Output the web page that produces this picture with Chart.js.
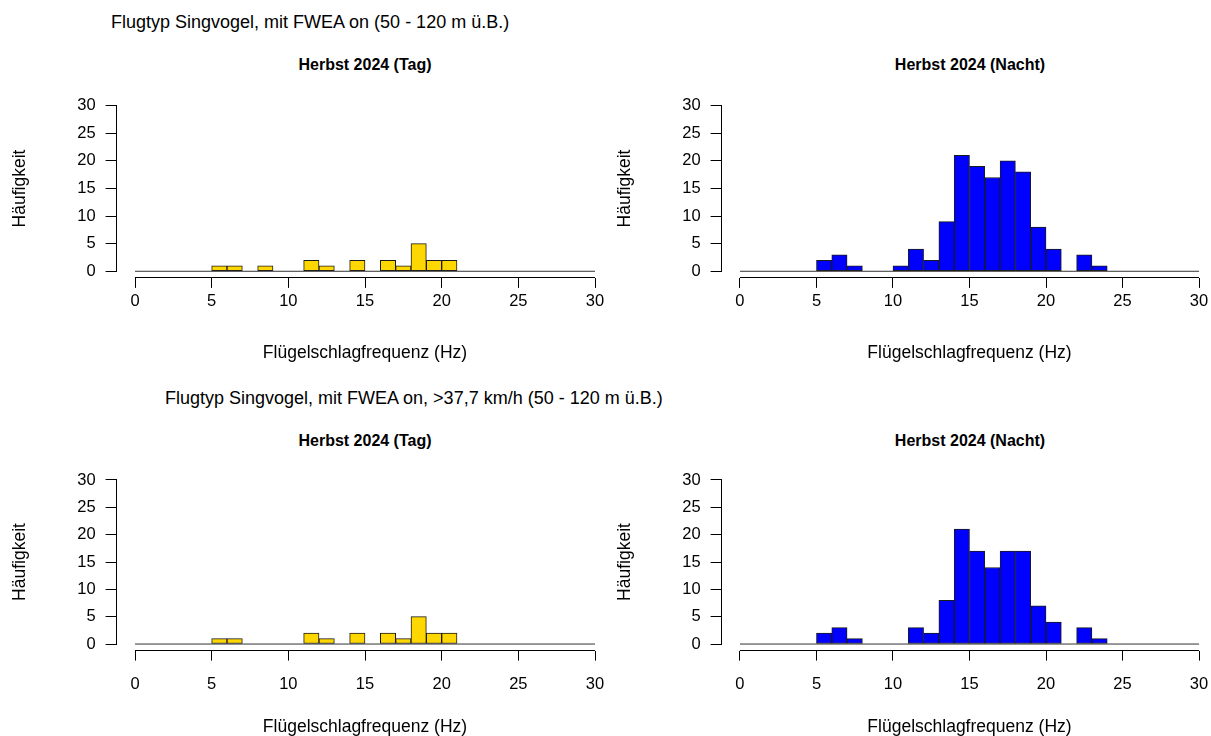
<!DOCTYPE html>
<html>
<head>
<meta charset="utf-8">
<script src="https://cdn.jsdelivr.net/npm/chart.js@4.4.1/dist/chart.umd.min.js"></script>
<style>
html,body{margin:0;padding:0;background:#fff;overflow:hidden;width:1211px;height:736px}
body{position:relative;font-family:"Liberation Sans",Arial,sans-serif;color:#000}
canvas{position:absolute}
.main{position:absolute;font-size:18px;line-height:18px;white-space:nowrap}
.sub{position:absolute;font-size:16px;line-height:16px;font-weight:bold;width:300px;text-align:center;white-space:nowrap}
</style>
</head>
<body>

<div class="main" style="left:111px;top:13px">Flugtyp Singvogel, mit FWEA on (50 - 120 m ü.B.)</div>
<div class="sub" style="left:215px;top:57px">Herbst 2024 (Tag)</div>
<div class="sub" style="left:820px;top:57px">Herbst 2024 (Nacht)</div>

<div class="main" style="left:165px;top:389px">Flugtyp Singvogel, mit FWEA on, &gt;37,7 km/h (50 - 120 m ü.B.)</div>
<div class="sub" style="left:215px;top:433px">Herbst 2024 (Tag)</div>
<div class="sub" style="left:820px;top:433px">Herbst 2024 (Nacht)</div>

<canvas id="tagAll" width="630" height="330" style="left:0px;top:40px"></canvas>
<canvas id="nachtAll" width="630" height="330" style="left:605px;top:40px"></canvas>
<canvas id="tagWind" width="630" height="330" style="left:0px;top:415px"></canvas>
<canvas id="nachtWind" width="630" height="330" style="left:605px;top:415px"></canvas>

<script>

// bins of 1 Hz, 0-30
const binMids=[0.5,1.5,2.5,3.5,4.5,5.5,6.5,7.5,8.5,9.5,10.5,11.5,12.5,13.5,14.5,15.5,16.5,17.5,18.5,19.5,20.5,21.5,22.5,23.5,24.5,25.5,26.5,27.5,28.5,29.5]
const histRange=[0,30]

const xTicks=[0,5,10,15,20,25,30]
const yTicks=[0,5,10,15,20,25,30]

// counts per bin
const tagAll   =[0,0,0,0,0,1,1,0,1,0,0,2,1,0,2,0,2,1,5,2,2,0,0,0,0,0,0,0,0,0]
const nachtAll =[0,0,0,0,0,2,3,1,0,0,1,4,2,9,21,19,17,20,18,8,4,0,3,1,0,0,0,0,0,0]
const tagWind  =[0,0,0,0,0,1,1,0,0,0,0,2,1,0,2,0,2,1,5,2,2,0,0,0,0,0,0,0,0,0]
const nachtWind=[0,0,0,0,0,2,3,1,0,0,0,3,2,8,21,17,14,17,17,7,4,0,3,1,0,0,0,0,0,0]

const yellow="#FFD700"
const blue="#0000FF"

const font="'Liberation Sans', Arial, sans-serif"

// R style axis lines, only from first to last tick
const rAxes={
id:"rAxes",
afterDraw(chart){
const {ctx,chartArea,scales}=chart
const x=scales.x
const y=scales.y
ctx.save()
ctx.strokeStyle="#000"
ctx.lineWidth=1
ctx.beginPath()
const by=Math.floor(chartArea.bottom)+0.5
ctx.moveTo(x.getPixelForValue(xTicks[0]),by)
ctx.lineTo(x.getPixelForValue(xTicks[xTicks.length-1]),by)
const lx=Math.floor(chartArea.left)+0.5
ctx.moveTo(lx,y.getPixelForValue(yTicks[0]))
ctx.lineTo(lx,y.getPixelForValue(yTicks[yTicks.length-1]))
ctx.stroke()
ctx.restore()
}
}

function makePanel(id,counts,color,p){

const ctx=document.getElementById(id)

return new Chart(ctx,{
type:"bar",
data:{
datasets:[
{
type:"line",
data:histRange.map(v=>({x:v,y:0})),
borderColor:"#333",
borderWidth:1,
pointRadius:0
},
{
type:"bar",
data:counts.map((c,i)=>({x:binMids[i],y:c})),
backgroundColor:color,
borderColor:"#1a1a1a",
borderWidth:1,
borderSkipped:false,
barPercentage:1,
categoryPercentage:1
}
]
},
options:{
responsive:false,
animation:false,
layout:{padding:{left:0,top:p.top,right:p.right,bottom:0}},
plugins:{legend:{display:false},tooltip:{enabled:false}},
scales:{
x:{
type:"linear",
min:-1.2,
max:31.2,
offset:false,
afterBuildTicks:s=>{s.ticks=xTicks.map(v=>({value:v}))},
afterFit:s=>{s.height=p.xHeight},
border:{display:false},
grid:{offset:false,drawOnChartArea:false,drawTicks:true,tickLength:10,color:"#000"},
ticks:{color:"#000",padding:p.xPad,maxRotation:0,autoSkip:false,font:{family:font,size:16.5}},
title:{display:true,text:"Flügelschlagfrequenz (Hz)",color:"#000",font:{family:font,size:17.5},padding:{top:0,bottom:p.xTitlePad}}
},
y:{
min:-1.2,
max:31.2,
afterBuildTicks:s=>{s.ticks=yTicks.map(v=>({value:v}))},
afterFit:s=>{s.width=116.6},
border:{display:false},
grid:{drawOnChartArea:false,drawTicks:true,tickLength:11,color:"#000"},
ticks:{color:"#000",padding:10,font:{family:font,size:16.5}},
title:{display:true,text:"Häufigkeit",color:"#000",font:{family:font,size:17.5},padding:{top:9.5,bottom:0}}
}
}
},
plugins:[rAxes]
})

}

makePanel("tagAll",tagAll,yellow,{top:59.1,right:16.6,xHeight:92.1,xPad:3.5,xTitlePad:6.5})
makePanel("nachtAll",nachtAll,blue,{top:59.1,right:17.6,xHeight:92.1,xPad:3.5,xTitlePad:6.5})
makePanel("tagWind",tagWind,yellow,{top:58.4,right:16.6,xHeight:94.4,xPad:14,xTitlePad:7.2})
makePanel("nachtWind",nachtWind,blue,{top:58.4,right:17.6,xHeight:94.4,xPad:14,xTitlePad:7.2})

</script>
</body>
</html>
